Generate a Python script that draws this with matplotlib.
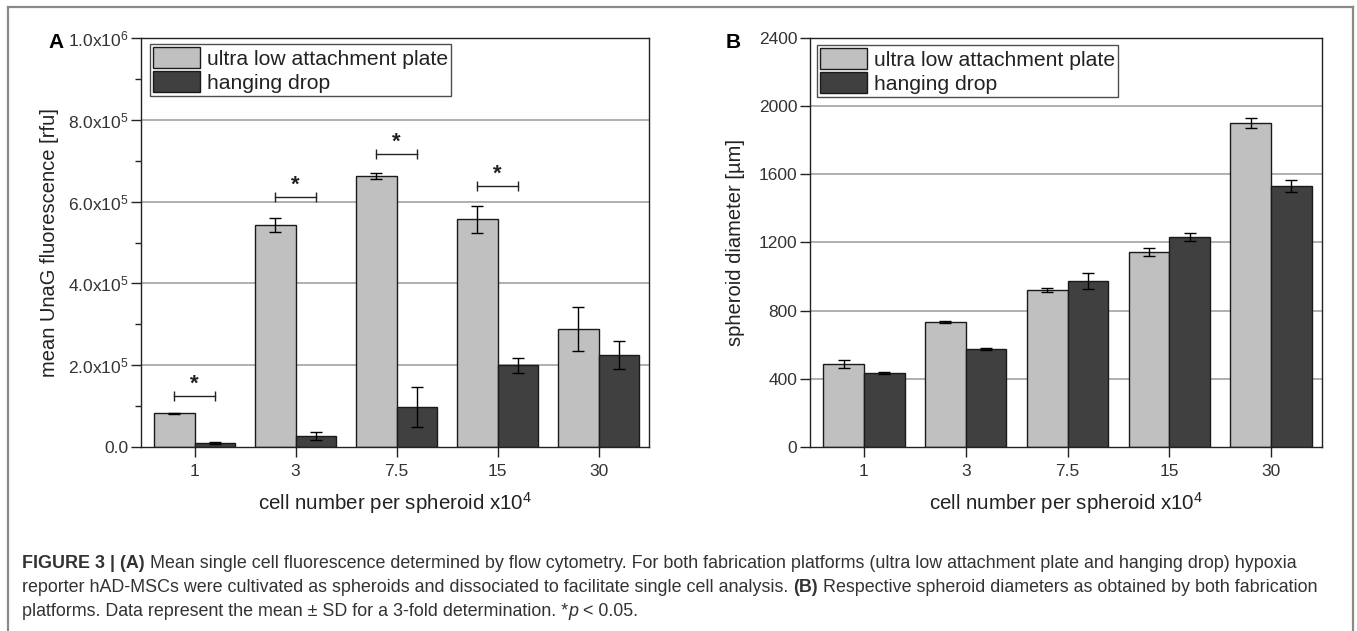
import matplotlib
matplotlib.use("Agg")
import matplotlib.pyplot as plt
from matplotlib.lines import Line2D
from matplotlib.patches import Patch
import numpy as np

# ---------------- data ----------------
categories = ["1", "3", "7.5", "15", "30"]
series_names = ["ultra low attachment plate", "hanging drop"]

# Panel A: mean UnaG fluorescence [rfu]
fluo_ula = [82e3, 543e3, 663e3, 557e3, 289e3]
fluo_ula_sd = [2e3, 17e3, 8e3, 33e3, 54e3]
fluo_hd = [10e3, 27e3, 98e3, 200e3, 225e3]
fluo_hd_sd = [2e3, 9e3, 49e3, 18e3, 35e3]
sig_groups = [0, 1, 2, 3]
sig_heights = [125e3, 611e3, 716e3, 638e3]

# Panel B: spheroid diameter [um]
diam_ula = [487, 734, 921, 1144, 1901]
diam_ula_sd = [25, 5, 12, 22, 30]
diam_hd = [434, 575, 974, 1232, 1532]
diam_hd_sd = [8, 5, 45, 22, 33]

a_yticks = [0, 2e5, 4e5, 6e5, 8e5, 1e6]
a_yticklabels = ["0.0", "2.0x10$^{5}$", "4.0x10$^{5}$", "6.0x10$^{5}$",
                 "8.0x10$^{5}$", "1.0x10$^{6}$"]
b_yticks = [0, 400, 800, 1200, 1600, 2000, 2400]
b_yticklabels = ["0", "400", "800", "1200", "1600", "2000", "2400"]

# ---------------- style ----------------
plt.rcParams["font.family"] = ["Liberation Sans", "DejaVu Sans"]
plt.rcParams["mathtext.fontset"] = "custom"
plt.rcParams["mathtext.rm"] = "Liberation Sans"
plt.rcParams["mathtext.it"] = "Liberation Sans:italic"
plt.rcParams["mathtext.bf"] = "Liberation Sans:bold"

C_ULA = "#c0c0c0"
C_HD = "#404040"
EDGE = "#1a1a1a"
TXT = "#333333"
GRID = "#9a9a9a"

W, H = 1357, 631
fig = plt.figure(figsize=(W / 100, H / 100), dpi=100)


def px_axes(left, right, top, bottom):
    return fig.add_axes([left / W, 1 - bottom / H, (right - left) / W, (bottom - top) / H])


axA = px_axes(141, 649, 38, 447)
axB = px_axes(810, 1322, 38, 447)

bw = 0.4
x = np.arange(len(categories))


def draw_panel(ax, ula, ula_sd, hd, hd_sd, yticks, yticklabels, ylim, ylabel,
               minor=None, ylab_x=-0.16, legend_off=(9, 6), ax_px=(508, 409)):
    ax.set_axisbelow(True)
    ax.bar(x - bw / 2, ula, bw, color=C_ULA, edgecolor=EDGE, linewidth=1.0, zorder=2)
    ax.bar(x + bw / 2, hd, bw, color=C_HD, edgecolor=EDGE, linewidth=1.0, zorder=2)
    ax.errorbar(x - bw / 2, ula, yerr=ula_sd, fmt="none", ecolor="black",
                elinewidth=1, capsize=4.5, capthick=1, zorder=3)
    ax.errorbar(x + bw / 2, hd, yerr=hd_sd, fmt="none", ecolor="black",
                elinewidth=1, capsize=4.5, capthick=1, zorder=3)
    ax.set_xlim(-0.53, 4.5)
    ax.set_ylim(*ylim)
    ax.set_xticks(x)
    ax.set_xticklabels(categories)
    ax.set_yticks(yticks)
    ax.set_yticklabels(yticklabels)
    if minor is not None:
        ax.set_yticks(minor, minor=True)
    for yv in yticks[1:-1]:
        ax.axhline(yv, color=GRID, lw=1.1, zorder=0)
    ax.tick_params(axis="both", which="major", direction="out", length=7,
                   width=1, color="#222222", labelsize=12.5, labelcolor=TXT)
    ax.tick_params(axis="y", which="major", pad=2)
    ax.tick_params(axis="x", which="major", pad=5)
    ax.tick_params(axis="y", which="minor", direction="out", length=4, width=1,
                   color="#222222")
    ax.tick_params(top=False, right=False, which="both")
    for s in ax.spines.values():
        s.set_color("#222222")
        s.set_linewidth(1.0)
    ax.set_ylabel(ylabel, fontsize=14.5, color="#222222")
    ax.yaxis.set_label_coords(ylab_x, 0.5)
    ax.set_xlabel("cell number per spheroid x10$^{4}$", fontsize=14.8, color="#222222")
    ax.xaxis.set_label_coords(0.5, -0.137)
    ax.xaxis.label.set_verticalalignment("center")
    handles = [Patch(facecolor=C_ULA, edgecolor=EDGE, linewidth=1.0),
               Patch(facecolor=C_HD, edgecolor=EDGE, linewidth=1.0)]
    leg = ax.legend(handles, series_names, loc="upper left",
                    bbox_to_anchor=(legend_off[0] / ax_px[0], 1 - legend_off[1] / ax_px[1]),
                    borderaxespad=0, fontsize=15.2, frameon=True, fancybox=False,
                    edgecolor="#222222", handlelength=2.2, handleheight=1.15,
                    handletextpad=0.35, labelspacing=0.1, borderpad=0.15)
    leg.get_frame().set_linewidth(1.0)
    for t in leg.get_texts():
        t.set_color("#222222")


draw_panel(axA, fluo_ula, fluo_ula_sd, fluo_hd, fluo_hd_sd, a_yticks, a_yticklabels,
           (0, 1e6), "mean UnaG fluorescence [rfu]",
           minor=[1e5, 3e5, 5e5, 7e5, 9e5], ylab_x=(59 - 141) / 508,
           legend_off=(9, 6), ax_px=(508, 409))
draw_panel(axB, diam_ula, diam_ula_sd, diam_hd, diam_hd_sd, b_yticks, b_yticklabels,
           (0, 2400), "spheroid diameter [\u00b5m]", minor=None,
           ylab_x=(745 - 810) / 512, legend_off=(7, 7), ax_px=(512, 409))

# significance brackets on panel A
for g, h in zip(sig_groups, sig_heights):
    axA.plot([g - bw / 2, g + bw / 2], [h, h], color="#222222", lw=1.0, zorder=4,
             marker="|", markersize=7, markeredgewidth=1.0)
    axA.annotate("*", xy=(g, h), xytext=(0, 1), textcoords="offset points",
                 ha="center", va="bottom", fontsize=16, fontweight="bold", color="#222222")

# panel letters
fig.text(56 / W, 1 - 42 / H, "A", fontsize=15, fontweight="bold", ha="center", va="center")
fig.text(733 / W, 1 - 42 / H, "B", fontsize=15, fontweight="bold", ha="center", va="center")

# outer frame (open at the bottom)
fcol = "#8a8a8a"
fig.add_artist(Line2D([7.5 / W, 7.5 / W], [0, 1 - 6.5 / H], color=fcol, lw=1.6,
                      transform=fig.transFigure))
fig.add_artist(Line2D([7.5 / W, 1352.5 / W], [1 - 6.5 / H, 1 - 6.5 / H], color=fcol,
                      lw=1.6, transform=fig.transFigure))
fig.add_artist(Line2D([1352.5 / W, 1352.5 / W], [0, 1 - 6.5 / H], color=fcol, lw=1.6,
                      transform=fig.transFigure))

# caption with mixed styles
caption_lines = [
    [("FIGURE 3 | (A)", "bold", "normal"),
     ("Mean single cell fluorescence determined by flow cytometry. For both fabrication "
      "platforms (ultra low attachment plate and hanging drop) hypoxia", "normal", "normal")],
    [("reporter hAD-MSCs were cultivated as spheroids and dissociated to facilitate single "
      "cell analysis.", "normal", "normal"),
     ("(B)", "bold", "normal"),
     ("Respective spheroid diameters as obtained by both fabrication", "normal", "normal")],
    [("platforms. Data represent the mean \u00b1 SD for a 3-fold determination. *", "normal", "normal"),
     ("p", "normal", "italic"),
     (" < 0.05.", "normal", "normal")],
]
caption_y = [563, 588, 612]
cap_fs = 12.9
renderer = fig.canvas.get_renderer()
t1 = fig.text(0, 0, "ab", fontsize=cap_fs)
t2 = fig.text(0, 0, "a b", fontsize=cap_fs)
space_w = t2.get_window_extent(renderer).width - t1.get_window_extent(renderer).width
t1.remove(); t2.remove()

for parts, yc in zip(caption_lines, caption_y):
    xpos = 22.0
    for i, (txt, wgt, sty) in enumerate(parts):
        t = fig.text(xpos / W, 1 - yc / H, txt, fontsize=cap_fs, fontweight=wgt,
                     fontstyle=sty, color=TXT, ha="left", va="center")
        w = t.get_window_extent(renderer).width
        xpos += w
        if i < len(parts) - 1:
            nxt = parts[i + 1][0]
            if not (txt.endswith("*") or nxt.startswith(" ")):
                xpos += space_w

fig.savefig("out.png", dpi=100)
